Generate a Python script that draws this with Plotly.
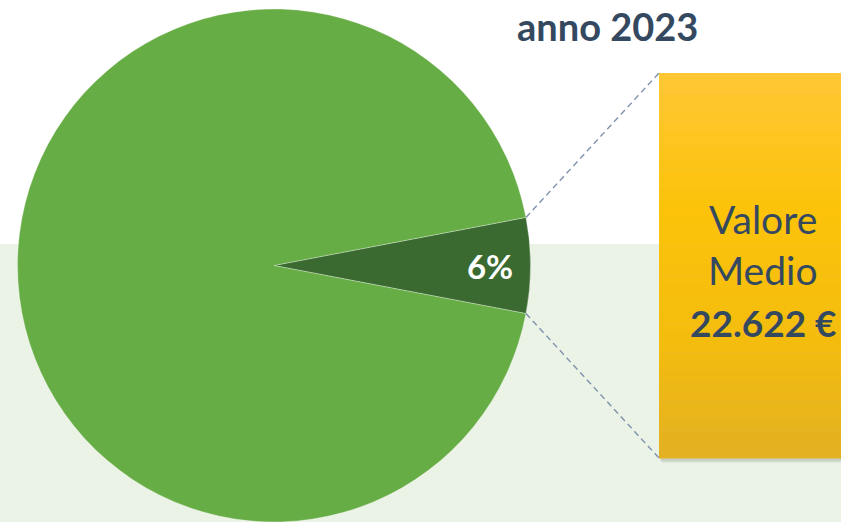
import math
import plotly.graph_objects as go

# ---- data ----
labels = ["Valore medio", "Altro"]
values = [6, 94]
slice_colors = ["#3A6A30", "#67AD46"]
title_text = "anno 2023"
box_lines = ["Valore", "Medio", "22.622 €"]

W, H = 841, 522
FONT = "Lato"
TXT = "#34495F"

# pie placement (paper fractions)
dom_x = [17 / W, 531 / W]
dom_y = [0.0, 1 - 9 / H]

share = values[0] / sum(values)
half_angle = share * 360 / 2
rotation = 90 - half_angle

fig = go.Figure()
fig.add_trace(go.Pie(
    labels=labels, values=values, sort=False, direction="clockwise",
    rotation=rotation,
    marker=dict(colors=slice_colors, line=dict(color="rgba(255,255,255,0.5)", width=0.6)),
    texttemplate=["%{percent:.0%}", ""],
    textposition="inside", insidetextorientation="horizontal",
    textfont=dict(family=FONT, size=33, color="white", weight="bold"),
    domain=dict(x=dom_x, y=dom_y), showlegend=False, hoverinfo="label+percent",
))

shapes = []
# light green band
shapes.append(dict(type="rect", xref="paper", yref="paper", x0=0, x1=1, y0=0, y1=1 - 244 / H,
                   fillcolor="#EBF3E6", line_width=0, layer="below"))

# box geometry (pixels)
bx0, bx1, by0, by1 = 659, 880, 73, 458
def px(x):
    return x / W
def py(y):
    return 1 - y / H
# soft shadow
for k, op in [(5, 0.04), (4, 0.05), (3, 0.06)]:
    shapes.append(dict(type="rect", xref="paper", yref="paper", x0=px(bx0 + k - 2), x1=px(bx1 + k),
                       y0=py(by1 + k), y1=py(by0 + k), fillcolor="rgba(0,0,0,%.2f)" % op,
                       line_width=0, layer="below"))
# gradient box
stops = [(0.0, (255, 199, 52)), (0.35, (252, 195, 10)), (0.7, (244, 189, 14)), (1.0, (226, 176, 34))]
def col(t):
    for (t0, c0), (t1, c1) in zip(stops[:-1], stops[1:]):
        if t0 <= t <= t1:
            f = (t - t0) / (t1 - t0)
            return "rgb(%d,%d,%d)" % tuple(round(a + (b - a) * f) for a, b in zip(c0, c1))
    return "rgb(%d,%d,%d)" % stops[-1][1]
N = 40
for i in range(N):
    y0 = by0 + (by1 - by0) * i / N
    y1 = by0 + (by1 - by0) * (i + 1) / N
    shapes.append(dict(type="rect", xref="paper", yref="paper", x0=px(bx0), x1=px(bx1),
                       y0=py(y1 + 0.6), y1=py(y0), fillcolor=col((i + 0.5) / N), line_width=0, layer="below"))

# dashed connectors from slice edges to box corners
cx = (dom_x[0] + dom_x[1]) / 2 * W
cy = (1 - (dom_y[0] + dom_y[1]) / 2) * H
r = min((dom_x[1] - dom_x[0]) * W, (dom_y[1] - dom_y[0]) * H) / 2
a = math.radians(half_angle)
ux, uy = cx + r * math.cos(a), cy - r * math.sin(a)
lx, ly = cx + r * math.cos(a), cy + r * math.sin(a)
for (sx, sy, ex, ey) in [(ux, uy, bx0, by0), (lx, ly, bx0, by1)]:
    shapes.append(dict(type="line", xref="paper", yref="paper", x0=px(sx), y0=py(sy), x1=px(ex), y1=py(ey),
                       line=dict(color="#7F92AD", width=1.4, dash="6px,4px"), layer="above"))

def ann(text, x, y, size):
    return dict(text=text, x=px(x), y=py(y), xref="paper", yref="paper",
                xanchor="center", yanchor="middle", showarrow=False,
                font=dict(family=FONT, size=size, color=TXT))

annotations = [
    ann("<b>%s</b>" % title_text, 607, 26, 38),
    ann(box_lines[0], 763, 219, 39),
    ann(box_lines[1], 763, 270, 39),
    ann("<b>%s</b>" % box_lines[2], 763, 322, 37),
]

fig.update_layout(
    width=W, height=H, margin=dict(l=0, r=0, t=0, b=0),
    paper_bgcolor="white", plot_bgcolor="white",
    shapes=shapes, annotations=annotations,
)
fig.write_html("out.html", config={"displayModeBar": False},
               post_script="document.body.style.margin='0';document.body.style.overflow='hidden';")
